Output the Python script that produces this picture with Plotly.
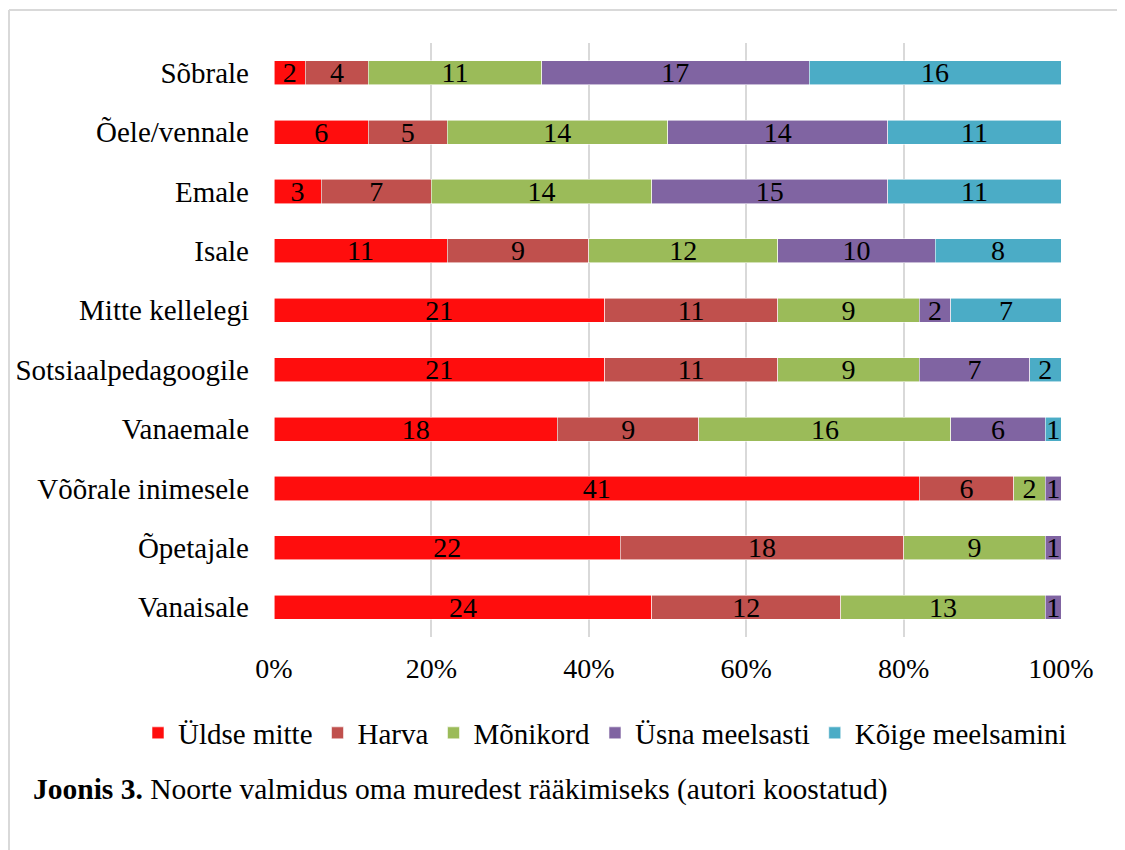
import plotly.graph_objects as go

categories = ["Sõbrale", "Õele/vennale", "Emale", "Isale", "Mitte kellelegi",
              "Sotsiaalpedagoogile", "Vanaemale", "Võõrale inimesele", "Õpetajale", "Vanaisale"]
series_names = ["Üldse mitte", "Harva", "Mõnikord", "Üsna meelsasti", "Kõige meelsamini"]
uldse_mitte = [2, 6, 3, 11, 21, 21, 18, 41, 22, 24]
harva = [4, 5, 7, 9, 11, 11, 9, 6, 18, 12]
monikord = [11, 14, 14, 12, 9, 9, 16, 2, 9, 13]
usna_meelsasti = [17, 14, 15, 10, 2, 7, 6, 1, 1, 1]
koige_meelsamini = [16, 11, 11, 8, 7, 2, 1, 0, 0, 0]
x_ticks = [0, 20, 40, 60, 80, 100]
x_tick_labels = ["0%", "20%", "40%", "60%", "80%", "100%"]
caption_bold = "Joonis 3."
caption_text = " Noorte valmidus oma muredest rääkimiseks (autori koostatud)"

colors = ["#FF0D0D", "#C0504D", "#9BBB59", "#8064A2", "#4BACC6"]
series = [uldse_mitte, harva, monikord, usna_meelsasti, koige_meelsamini]

FONT = "Liberation Serif"
FS = 29

fig = go.Figure()
for name, vals, col in zip(series_names, series, colors):
    fig.add_trace(go.Bar(
        y=categories, x=vals, name=name, orientation="h",
        marker=dict(color=col, line=dict(color="rgba(255,255,255,0.8)", width=0.7)),
        text=[str(v) if v else "" for v in vals],
        textposition="inside", insidetextanchor="middle", textangle=0,
        textfont=dict(family=FONT, size=28, color="black"),
        constraintext="none",
    ))

# page offset (browser body margin) compensation
OFF = 8
W, H = 1125, 850
L = 274 - OFF
T = 43 - OFF
R = W - (1061 - OFF)
B = H - (637 - OFF)
pw = W - L - R
ph = H - T - B

def px(x):
    return (x - OFF - L) / pw

def py(y):
    return (H - B - (y - OFF)) / ph

fig.update_layout(
    width=W, height=H,
    barmode="stack", barnorm="percent", bargap=0.595,
    margin=dict(l=L, r=R, t=T, b=B, autoexpand=False),
    paper_bgcolor="white", plot_bgcolor="white",
    font=dict(family=FONT, size=FS, color="black"),
    showlegend=True,
    legend=dict(orientation="h", xref="paper", yref="paper",
                x=px(138), xanchor="left", y=py(733), yanchor="middle",
                font=dict(family=FONT, size=FS, color="black"),
                itemwidth=30, traceorder="normal", itemclick=False),
    xaxis=dict(range=[0, 100], tickvals=x_ticks, ticktext=x_tick_labels,
               showgrid=True, gridcolor="#D9D9D9", gridwidth=2,
               zeroline=False, showline=False, ticks="", automargin=False,
               ticklabelstandoff=12,
               tickfont=dict(family=FONT, size=28, color="black")),
    yaxis=dict(autorange="reversed", showgrid=False, zeroline=False, showline=False,
               ticks="", ticklabelstandoff=24, automargin=False,
               tickfont=dict(family=FONT, size=FS, color="black")),
)

fig.add_annotation(
    xref="paper", yref="paper", x=px(31), y=py(789), xanchor="left", yanchor="middle",
    text="<b>" + caption_bold + "</b>" + caption_text, showarrow=False,
    font=dict(family=FONT, size=29.5, color="black"),
)

# outer frame (top and left edges visible)
fig.add_shape(type="line", xref="paper", yref="paper", x0=px(9), x1=px(1140),
              y0=py(10), y1=py(10), line=dict(color="#D9D9D9", width=2))
fig.add_shape(type="line", xref="paper", yref="paper", x0=px(9), x1=px(9),
              y0=py(10), y1=py(870), line=dict(color="#D9D9D9", width=2))

fig.write_html("out.html")
